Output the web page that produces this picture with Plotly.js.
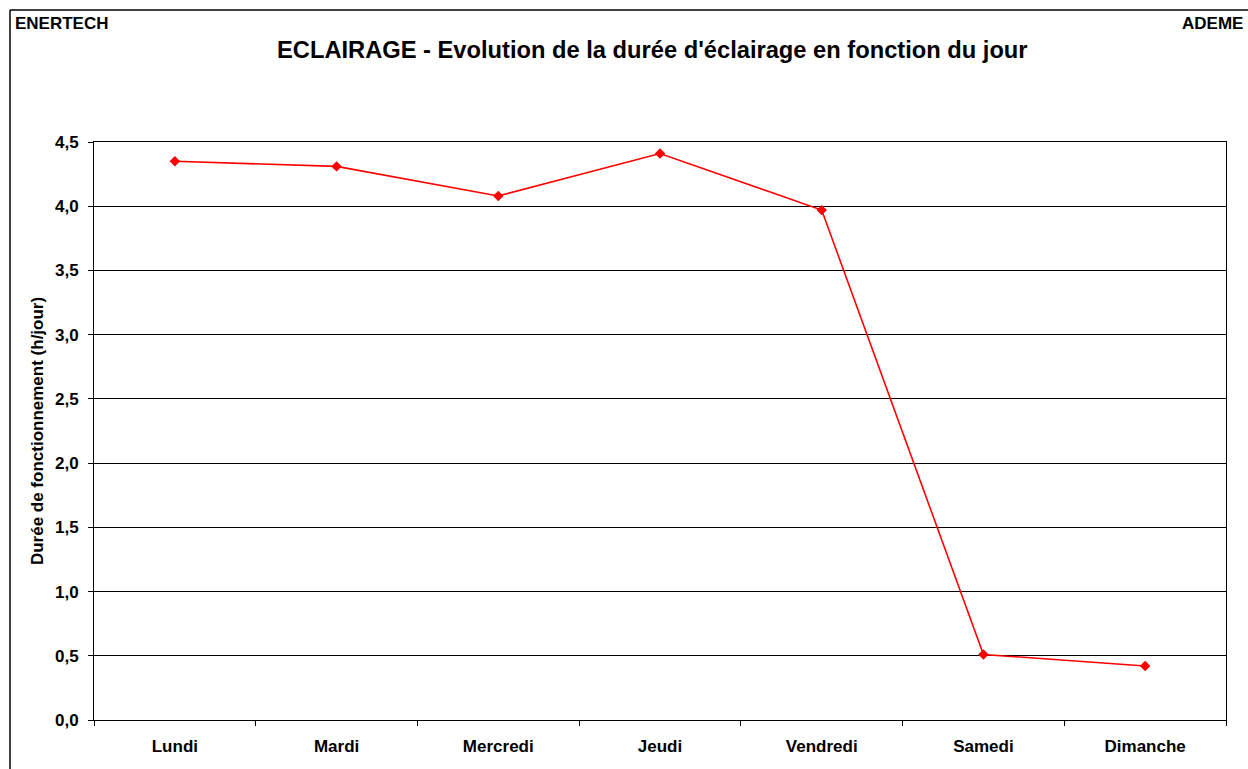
<!DOCTYPE html>
<html>
<head>
<meta charset="utf-8">
<script src="https://cdn.plot.ly/plotly-3.0.1.min.js"></script>
<style>html,body{margin:0;padding:0;background:#fff;}#chart{width:1248px;height:769px;}</style>
</head>
<body>
<div id="chart"></div>
<script>
const days = ["Lundi", "Mardi", "Mercredi", "Jeudi", "Vendredi", "Samedi", "Dimanche"];
const hours = [4.35, 4.31, 4.08, 4.41, 3.97, 0.51, 0.42];
const yTickVals = [0, 0.5, 1, 1.5, 2, 2.5, 3, 3.5, 4, 4.5];

const W = 1248, H = 769;
const M = {l: 94, r: 22, t: 142, b: 49};
const pw = W - M.l - M.r, ph = H - M.t - M.b;
const px = x => (x - M.l) / pw;
const py = y => (H - M.b - y) / ph;

const FAM = "Liberation Sans, Arial, sans-serif";
const f = (s) => ({family: FAM, size: s, weight: "bold", color: "#000"});

const trace = {
  type: "scatter", mode: "lines+markers",
  x: days, y: hours,
  line: {color: "#FF0000", width: 1.6},
  marker: {symbol: "diamond", size: 8, color: "#FF0000"},
  hoverinfo: "x+y"
};

const layout = {
  width: W, height: H,
  margin: M,
  paper_bgcolor: "#fff", plot_bgcolor: "#fff",
  separators: ", ",
  showlegend: false,
  font: f(17),
  xaxis: {
    type: "category",
    range: [-0.5, 6.5],
    tickson: "boundaries",
    ticks: "outside", ticklen: 5, tickcolor: "#000", tickwidth: 1,
    ticklabelstandoff: 11,
    showgrid: false, zeroline: false,
    showline: true, linecolor: "#000", linewidth: 1, mirror: true,
    tickfont: f(17),
    automargin: false
  },
  yaxis: {
    range: [0, 4.5],
    tickvals: yTickVals,
    tickformat: ".1f",
    ticks: "outside", ticklen: 5, tickcolor: "#000", tickwidth: 1,
    ticklabelstandoff: 6,
    showgrid: true, gridcolor: "#000", gridwidth: 1,
    zeroline: false,
    showline: true, linecolor: "#000", linewidth: 1, mirror: true,
    tickfont: f(17),
    title: {text: "Durée de fonctionnement (h/jour)", font: f(17), standoff: 7},
    automargin: false
  },
  annotations: [
    {text: "ECLAIRAGE - Evolution de la durée d'éclairage en fonction du jour", xref: "paper", yref: "paper",
     x: px(652), y: py(50), xanchor: "center", yanchor: "middle", showarrow: false, font: f(23.7)},
    {text: "ENERTECH", xref: "paper", yref: "paper", x: px(13), y: py(23), xanchor: "left", yanchor: "middle",
     showarrow: false, font: f(17)},
    {text: "ADEME", xref: "paper", yref: "paper", x: px(1245), y: py(23), xanchor: "right", yanchor: "middle",
     showarrow: false, font: f(17)}
  ],
  shapes: [
    {type: "line", xref: "paper", yref: "paper", x0: px(10), x1: px(1260), y0: py(10), y1: py(10), line: {color: "#000", width: 1.5}},
    {type: "line", xref: "paper", yref: "paper", x0: px(10), x1: px(10), y0: py(10), y1: py(780), line: {color: "#000", width: 1.5}}
  ]
};

Plotly.newPlot("chart", [trace], layout, {displayModeBar: false, staticPlot: true});
</script>
</body>
</html>
